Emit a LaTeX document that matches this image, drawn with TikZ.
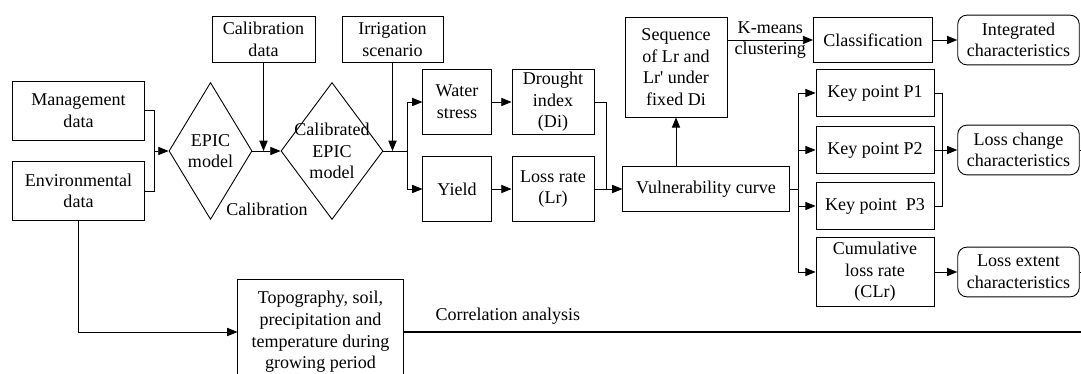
\documentclass[tikz,border=0pt]{standalone}
\usepackage{fontspec}
\setmainfont{Liberation Serif}
\usetikzlibrary{shapes,shapes.geometric,arrows.meta}

\begin{document}
\begin{tikzpicture}
	[x=0.0195cm,y=-0.0195cm,line width=0.5pt,>={Triangle[length=2mm,width=1.6mm]},
	every node/.style={align=center,inner sep=1pt,font=\fontsize{10}{12}\selectfont},
	box/.style={draw,shape=rectangle},
	rbox/.style={draw,shape=rectangle,rounded corners=1.8mm,minimum width=2.37cm,minimum height=0.97cm},
	dmd/.style={draw,shape=diamond,inner sep=0pt,minimum height=2.67cm}]
	\useasboundingbox (0,0) rectangle (1081,374);
	% data and model
	\node[box,minimum width=2.56cm,minimum height=1.15cm] (mgmt) at (78.5,110.5) {Management\\data};
	\node[box,minimum width=2.56cm,minimum height=1.15cm] (env) at (78.5,191) {Environmental\\data};
	\node[dmd,minimum width=1.62cm,label={center:{EPIC\\model}}] (epic) at (210.5,151) {};
	\node[dmd,minimum width=1.99cm,label={center:{Calibrated\\EPIC\\model}}] (cepic) at (332,151) {};
	\node[box,minimum width=2.01cm,minimum height=0.88cm] (caldata) at (263.5,39.5) {Calibration\\data};
	\node[box,minimum width=1.97cm,minimum height=0.88cm] (irr) at (392.5,39.5) {Irrigation\\scenario};
	\node (calib) at (267,209) {Calibration};
	% outputs of the model
	\node[box,minimum width=1.33cm,minimum height=1.25cm] (wstress) at (457,102) {Water\\stress};
	\node[box,minimum width=1.33cm,minimum height=1.25cm] (yield) at (457,189) {Yield};
	\node[box,minimum width=1.6cm,minimum height=1.25cm] (di) at (553,102) {Drought\\index\\(Di)};
	\node[box,minimum width=1.6cm,minimum height=1.25cm] (lr) at (553,189) {Loss rate\\(Lr)};
	\node[box,minimum width=3.24cm,minimum height=0.86cm] (vul) at (706,189) {Vulnerability curve};
	\node[box,minimum width=1.99cm,minimum height=1.95cm] (seq) at (676,67) {Sequence\\of Lr and\\Lr\textquotesingle{} under\\fixed Di};
	\node[box,minimum width=2.32cm,minimum height=0.86cm] (cls) at (873,40) {Classification};
	\node[box,minimum width=2.3cm,minimum height=0.93cm] (kp1) at (875,93) {Key point P1};
	\node[box,minimum width=2.3cm,minimum height=0.93cm] (kp2) at (875,150) {Key point P2};
	\node[box,minimum width=2.3cm,minimum height=0.93cm] (kp3) at (875,206) {Key point~ P3};
	\node[box,minimum width=2.3cm,minimum height=1.35cm] (clr) at (875,272) {Cumulative\\loss rate\\(CLr)};
	\node[rbox] (integ) at (1018.5,40) {Integrated\\characteristics};
	\node[rbox] (lchange) at (1018.5,150) {Loss change\\characteristics};
	\node[rbox] (lextent) at (1018.5,272) {Loss extent\\characteristics};
	\node[box,minimum width=3.22cm,minimum height=2.03cm] (topo) at (320.5,332) {Topography, soil,\\precipitation and\\temperature during\\growing period};
	% connectors
	\coordinate (j1) at (154,151);
	\coordinate (j2) at (407,151);
	\coordinate (j3) at (606,189);
	\coordinate (j4) at (798,189);
	\coordinate (rend) at (1090,332);
	\draw (mgmt.east) -| (j1);
	\draw (env.east) -| (j1);
	\draw[->] (j1) -- (epic.west);
	\draw[->] (epic.east) -- (cepic.west);
	\draw[->] (caldata.south) -- (caldata.south |- epic.east);
	\draw (cepic.east) -- (j2);
	\draw[->] (irr.south) -- (irr.south |- cepic.east);
	\draw[->] (j2) |- (wstress.west);
	\draw[->] (j2) |- (yield.west);
	\draw[->] (wstress) -- (di);
	\draw[->] (yield) -- (lr);
	\draw (di.east) -| (j3);
	\draw[->] (lr.east) -- (vul.west);
	\draw[->] (vul.north -| seq.south) -- (seq.south);
	\draw[->] (seq.east |- cls.west) -- node {K-means\\clustering} (cls.west);
	\draw[->] (cls) -- (integ);
	\draw (vul.east) -- (j4);
	\draw[->] (j4) |- (kp1.west);
	\draw[->] (j4) |- (kp2.west);
	\draw[->] (j4) |- (kp3.west);
	\draw[->] (j4) |- (clr.west);
	\draw (kp1.east) -- ++(8,0) |- (kp3.east);
	\draw[->] (kp2) -- (lchange);
	\draw[->] (clr) -- (lextent);
	\draw (lchange.east) -- ++(6,0);
	\draw (lextent.east) -- ++(6,0);
	\draw[->] (env.south) |- (topo.west);
	\draw[line width=0.9pt] (topo.east) -- node[pos=0.035,above right,inner sep=4pt] {Correlation analysis} (rend);
\end{tikzpicture}
\end{document}
